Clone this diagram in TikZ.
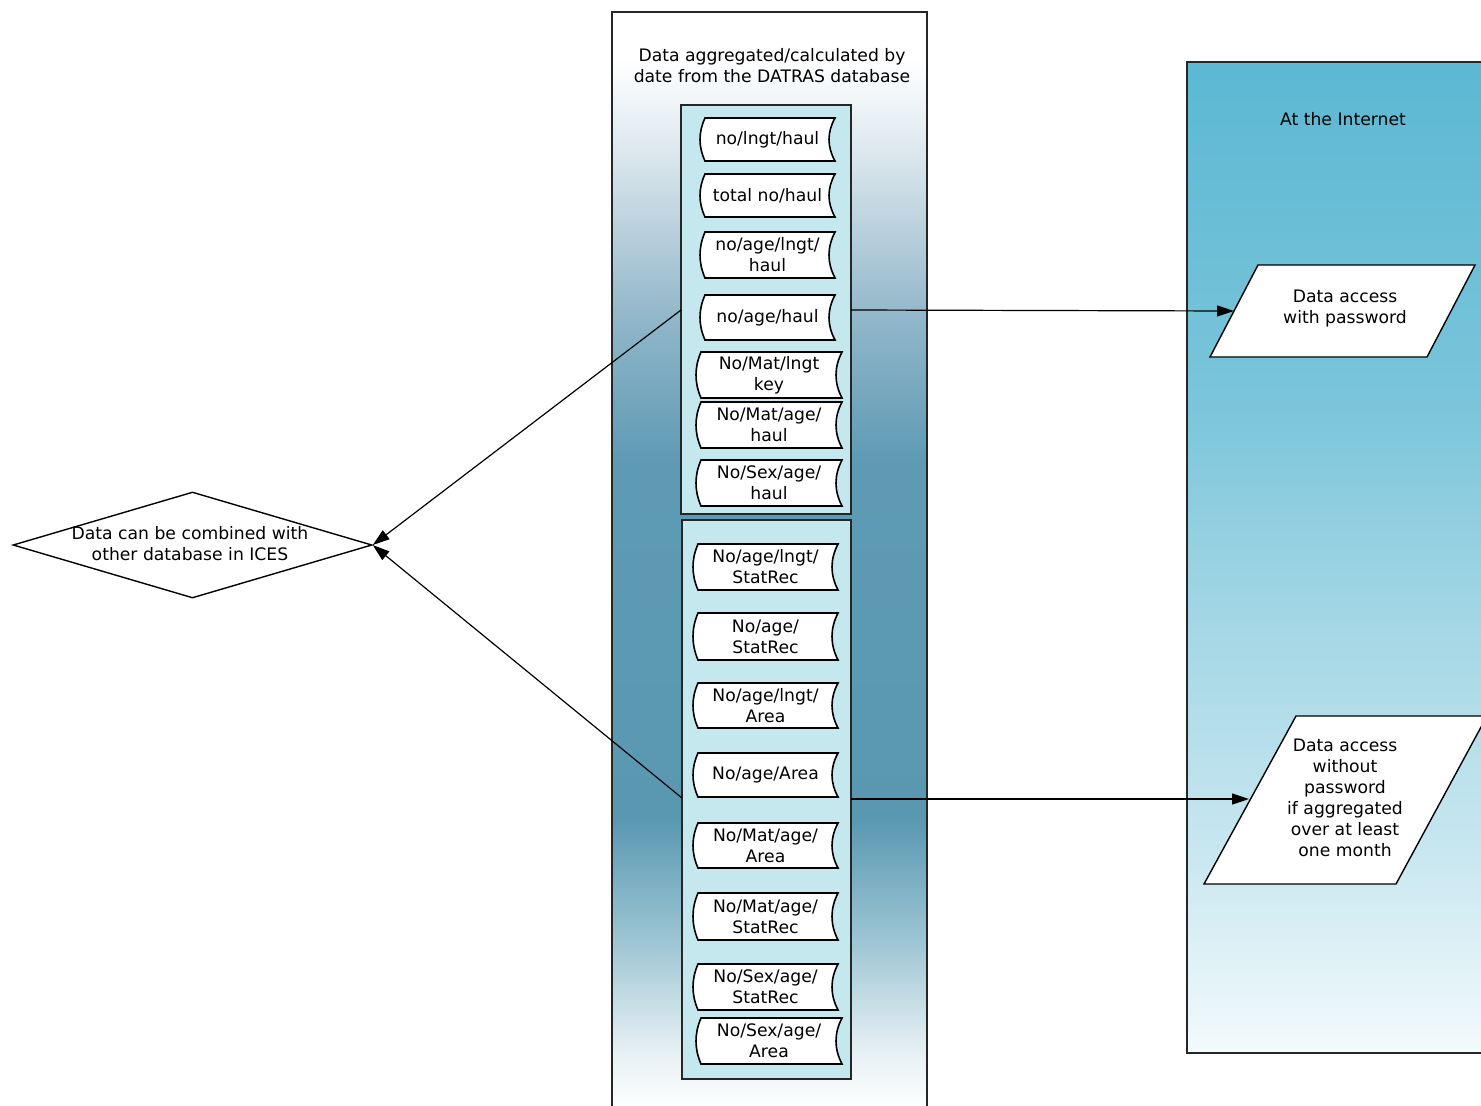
\documentclass[tikz,border=0pt]{standalone}
\usepackage{fontspec}
\setmainfont{DejaVu Sans}
\usetikzlibrary{shapes.geometric,arrows.meta}
\definecolor{inbox}{HTML}{C4E8EE}
\definecolor{mA}{HTML}{D8E5EC}
\definecolor{mB}{HTML}{90B6C9}
\definecolor{mC}{HTML}{5E9AB4}
\definecolor{mD}{HTML}{5A98B2}
\definecolor{mE}{HTML}{A3C9D6}
\definecolor{mF}{HTML}{E6F0F3}
\definecolor{rA}{HTML}{5CB8D3}
\definecolor{rB}{HTML}{7AC5DA}
\definecolor{rC}{HTML}{A0D5E4}
\definecolor{rD}{HTML}{C8E7F0}
\definecolor{rE}{HTML}{F3FAFC}
\newcommand\storedshape[6]{%
  \draw[sdshape] ({#2+5},#4) -- (#3,#4)
    .. controls ({#3-8},{#4+(#5-#4)/3}) and ({#3-8},{#5-(#5-#4)/3}) .. (#3,#5)
    -- ({#2+5},#5)
    .. controls ({#2-5/3},{#5-(#5-#4)/3}) and ({#2-5/3},{#4+(#5-#4)/3}) .. ({#2+5},#4) -- cycle;
  \node[txt] (#1) at ({(#2+#3)/2},{(#4+#5)/2}) {#6};
}
\begin{document}
\begin{tikzpicture}[x=1pt,y=-1pt,
  txt/.style={font=\fontsize{17.2}{21}\selectfont, align=center, inner sep=0pt},
  sdshape/.style={draw=black, fill=white, line width=1.6pt},
  border/.style={draw=black!85, line width=1.4pt},
  innerbox/.style={draw=black!85, fill=inbox, line width=1.4pt},
  conn/.style={draw=black, line width=1.2pt, -{Triangle[length=17pt,width=11pt]}},
  para/.style={draw=black, fill=white, line width=1.4pt}]
\useasboundingbox (0,0) rectangle (1481,1106);
\clip (0,0) rectangle (1481,1106);
\fill[white] (0,0) rectangle (1481,1106);
% middle column gradient
\fill[white] (612,12) rectangle (927,61);
\shade[top color=white, bottom color=mA] (612,60) rectangle (927,161);
\shade[top color=mA, bottom color=mB] (612,160) rectangle (927,321);
\shade[top color=mB, bottom color=mC] (612,320) rectangle (927,461);
\shade[top color=mC, bottom color=mD] (612,460) rectangle (927,821);
\shade[top color=mD, bottom color=mE] (612,820) rectangle (927,951);
\shade[top color=mE, bottom color=mF] (612,950) rectangle (927,1051);
\shade[top color=mF, bottom color=white] (612,1050) rectangle (927,1110);
\draw[border] (612,1112) -- (612,12) -- (927,12) -- (927,1112);
% right panel gradient
\shade[top color=rA, bottom color=rB] (1187,62) rectangle (1490,401);
\shade[top color=rB, bottom color=rC] (1187,400) rectangle (1490,601);
\shade[top color=rC, bottom color=rD] (1187,600) rectangle (1490,851);
\shade[top color=rD, bottom color=rE] (1187,850) rectangle (1490,1053);
\draw[border] (1490,62) -- (1187,62) -- (1187,1053) -- (1490,1053);
% texts
\node[txt] (hdr) at (772,66) {Data aggregated/calculated by\\date from the DATRAS database};
\node[txt] (inet) at (1343,119) {At the Internet};
% inner boxes
\draw[innerbox] (681,105) rectangle (851,514);
\draw[innerbox] (682,520) rectangle (851,1079);
\storedshape{s1}{700}{835}{118}{161}{no/lngt/haul}
\storedshape{s2}{700}{835}{174}{217}{total no/haul}
\storedshape{s3}{700}{835}{232}{278}{no/age/lngt/\\haul}
\storedshape{s4}{700}{835}{295}{340}{no/age/haul}
\storedshape{s5}{696}{842}{352}{398}{No/Mat/lngt\\key}
\storedshape{s6}{696}{842}{402}{448}{No/Mat/age/\\haul}
\storedshape{s7}{696}{842}{460}{506}{No/Sex/age/\\haul}
\storedshape{t1}{693}{838}{544}{590}{No/age/lngt/\\StatRec}
\storedshape{t2}{693}{838}{613}{660}{No/age/\\StatRec}
\storedshape{t3}{693}{838}{683}{728}{No/age/lngt/\\Area}
\storedshape{t4}{693}{838}{753}{797}{No/age/Area}
\storedshape{t5}{693}{838}{823}{868}{No/Mat/age/\\Area}
\storedshape{t6}{693}{838}{893}{940}{No/Mat/age/\\StatRec}
\storedshape{t7}{693}{838}{964}{1010}{No/Sex/age/\\StatRec}
\storedshape{t8}{696}{842}{1018}{1064}{No/Sex/age/\\Area}
% diamond
\node[diamond, draw=black, line width=1.4pt, fill=white, minimum width=359pt, minimum height=106pt, inner sep=0pt] (dia) at (192.5,545) {};
\node[txt] (diatext) at (190,543.5) {Data can be combined with\\other database in ICES};
% parallelograms
\draw[para] (1258,265) -- (1475,265) -- (1427,357) -- (1210,357) -- cycle;
\node[txt] (pa) at (1345,309) {Data access\\with password};
\draw[para] (1296,716) -- (1487,716) -- (1396,884) -- (1204,884) -- cycle;
\node[txt] (pb) at (1345,797.5) {Data access\\without\\password\\if aggregated\\over at least\\one month};
% connector end points
\coordinate (aL1) at (681,310);
\coordinate (aR1) at (851,310);
\coordinate (aL2) at (682,798);
\coordinate (aR2) at (851,799);
\coordinate (paL) at (1234,311);
\coordinate (pbL) at (1249,799);
\draw[conn] (aL1) -- (dia.east);
\draw[conn] (aL2) -- (dia.east);
\draw[conn] (aR1) -- (paL);
\draw[conn] (aR2) -- (pbL);
\end{tikzpicture}
\end{document}
